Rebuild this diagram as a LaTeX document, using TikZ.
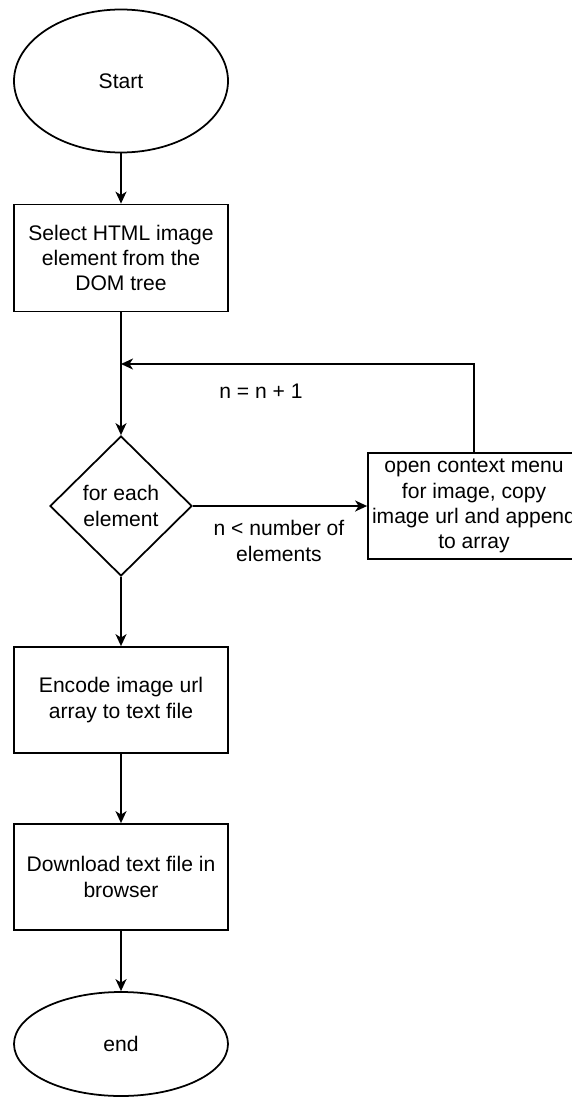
\documentclass[tikz,border=0pt]{standalone}
\usepackage{fontspec}
\setmainfont{Liberation Sans}
\usepackage{tikz}
\usetikzlibrary{shapes, arrows.meta, positioning, calc}

\tikzset{
	procbox/.style={draw, line width=1pt, minimum width=4.28cm, minimum height=2.12cm, align=center, inner sep=0pt},
	termin/.style={draw, ellipse, line width=1pt, minimum width=4.28cm, align=center, inner sep=0pt},
	decide/.style={draw, diamond, line width=1pt, minimum width=2.84cm, minimum height=2.8cm, align=center, inner sep=0pt},
	flowarrow/.style={line width=1pt, -{Stealth[length=0.24cm, width=0.22cm, inset=0.07cm]}}
}

\begin{document}
\begin{tikzpicture}[font=\fontsize{12}{14.3}\selectfont]
		\useasboundingbox (0,0) rectangle (11.42,-21.94);
		
		\node[termin, minimum height=2.86cm] (start) at (2.42,-1.62) {Start};
		\node[procbox, minimum height=2.14cm] (select) at (2.42,-5.16) {Select HTML image\\element from the\\DOM tree};
		\coordinate (loop) at (2.42,-7.28);
		\node[decide] (each) at (2.42,-10.12) {for each\\element};
		\node[procbox, minimum width=4.24cm] (menu) at (9.48,-10.12) {open context menu\\for image, copy\\image url and append\\to array};
		\node[procbox] (encode) at (2.42,-14.0) {Encode image url\\array to text file};
		\node[procbox] (download) at (2.42,-17.54) {Download text file in\\browser};
		\node[termin, minimum height=2.08cm] (end) at (2.42,-20.88) {end};
		
		\draw[flowarrow] (start) -- (select);
		\draw[flowarrow] (select) -- (each);
		\draw[flowarrow] (each) -- (menu);
		\draw[flowarrow] (menu.north) |- (loop);
		\draw[flowarrow] (each) -- (encode);
		\draw[flowarrow] (encode) -- (download);
		\draw[flowarrow] (download) -- (end);
		
		\node (inc) at (5.22,-7.82) {n = n + 1};
		\node[align=center] (cond) at (5.58,-10.82) {n < number of\\elements};
\end{tikzpicture}
\end{document}
